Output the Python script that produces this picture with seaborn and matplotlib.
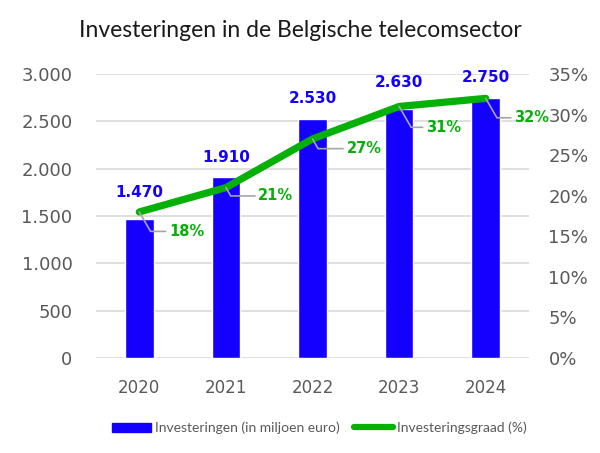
import matplotlib
matplotlib.use("Agg")
import matplotlib.pyplot as plt
import seaborn as sns
import numpy as np
import pandas as pd
from matplotlib.lines import Line2D
from matplotlib.patches import Patch

years = ["2020", "2021", "2022", "2023", "2024"]
investments = [1470, 1910, 2530, 2630, 2750]
rate = [18, 21, 27, 31, 32]
left_ticks = [0, 500, 1000, 1500, 2000, 2500, 3000]
right_ticks = [0, 5, 10, 15, 20, 25, 30, 35]
title = "Investeringen in de Belgische telecomsector"
bar_label = "Investeringen (in miljoen euro)"
line_label = "Investeringsgraad (%)"

# label offsets (points)
bar_offsets = [19, 14, 14.5, 19, 14.5]
rate_offsets = [(34, -14), (36, -6), (37, -7), (32, -15), (33, -14)]

BLUE = "#1400ff"
GREEN = "#06b006"
GREY = "#595959"
TEXTFONT = ["Lato", "DejaVu Sans"]

sns.set_theme(style="white")
plt.rcParams["font.family"] = ["DejaVu Sans"]

fig = plt.figure(figsize=(6.0, 4.53), dpi=100)
ax = fig.add_axes([0.16, 0.2097, 0.7217, 0.6269])

df = pd.DataFrame({"year": years, "inv": investments})
sns.barplot(data=df, x="year", y="inv", color=BLUE, saturation=1, width=0.33, ax=ax, zorder=2)
ax.set_xlim(-0.5, len(years) - 0.5)
ax.set_ylim(0, 3000)
ax.set_yticks(left_ticks)
ax.set_yticklabels([f"{v:,}".replace(",", ".") for v in left_ticks])
ax.yaxis.grid(True, color="#d9d9d9", linewidth=1.2, zorder=0)
ax.set_axisbelow(True)
for s in ax.spines.values():
    s.set_visible(False)
ax.tick_params(axis="y", length=0, pad=17, labelsize=13, labelcolor=GREY)
ax.tick_params(axis="x", length=0, pad=15, labelsize=12, labelcolor=GREY)
ax.set_xlabel("")
ax.set_ylabel("")

for i, (v, off) in enumerate(zip(investments, bar_offsets)):
    ax.annotate(f"{v:,}".replace(",", "."), (i, v), xytext=(0, off), textcoords="offset points",
                ha="center", va="center", color=BLUE, fontsize=11, fontweight="bold")

ax2 = ax.twinx()
sns.lineplot(x=np.arange(len(years)), y=rate, ax=ax2, color=GREEN, linewidth=5.2, zorder=3)
ax2.set_ylim(0, 35)
ax2.set_yticks(right_ticks)
ax2.set_yticklabels([f"{v}%" for v in right_ticks])
for s in ax2.spines.values():
    s.set_visible(False)
ax2.tick_params(axis="y", length=0, pad=14, labelsize=13, labelcolor=GREY)
ax2.set_ylabel("")
ax2.grid(False)

for i, (v, off) in enumerate(zip(rate, rate_offsets)):
    ax2.annotate(f"{v}%", (i, v), xytext=off, textcoords="offset points",
                 ha="center", va="center", color=GREEN, fontsize=10.5, fontweight="bold",
                 arrowprops=dict(arrowstyle="-", color="#a6a6a6", lw=1.2,
                                 shrinkA=0, shrinkB=0, relpos=(0, 0.5),
                                 connectionstyle="angle,angleA=180,angleB=-60,rad=0"))

fig.suptitle(title, x=0.5, y=0.955, fontsize=16.5, color="#1a1a1a", family=TEXTFONT)

handles = [Patch(facecolor=BLUE, edgecolor=BLUE),
           Line2D([0], [0], color=GREEN, linewidth=4.5, solid_capstyle="round")]
fig.legend(handles, [bar_label, line_label], loc="center", bbox_to_anchor=(0.532, 0.055),
           ncol=2, frameon=False, labelcolor=GREY, handlelength=2.8,
           handletextpad=0.3, columnspacing=1.0,
           prop={"family": TEXTFONT, "size": 10})

fig.savefig("out.png", dpi=100)
